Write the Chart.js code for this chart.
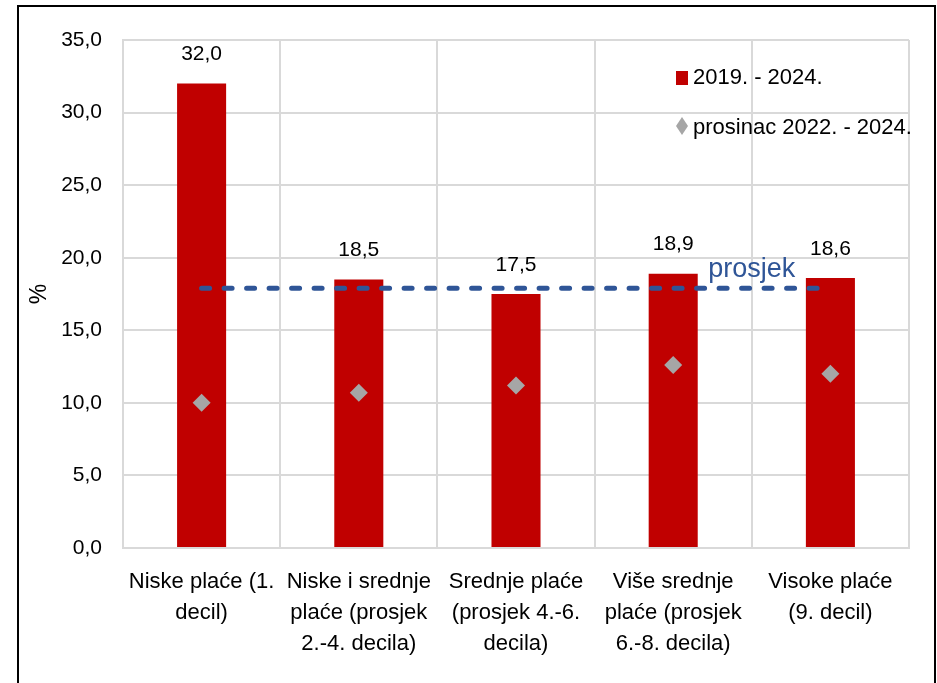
<!DOCTYPE html>
<html lang="hr">
<head>
<meta charset="utf-8">
<title>Rast plaća po decilima</title>
<script src="https://cdn.jsdelivr.net/npm/chart.js@4"></script>
<style>
    html, body { margin: 0; padding: 0; background: #fff; overflow: hidden; }
    #okvir {
        position: absolute; left: 17px; top: 5px; width: 919px; height: 720px;
        box-sizing: border-box; border: 2.5px solid #000;
    }
    #grafikon { position: absolute; left: 0; top: 0; }
</style>
</head>
<body>
<div id="okvir"></div>
<canvas id="grafikon" width="937" height="683"></canvas>
<script>
// ── Podaci ────────────────────────────────────────────────────
const KATEGORIJE = [
    ['Niske plaće (1.', 'decil)'],
    ['Niske i srednje', 'plaće (prosjek', '2.-4. decila)'],
    ['Srednje plaće', '(prosjek 4.-6.', 'decila)'],
    ['Više srednje', 'plaće (prosjek', '6.-8. decila)'],
    ['Visoke plaće', '(9. decil)'],
];
const RAST_2019_2024   = [32.0, 18.5, 17.5, 18.9, 18.6];
const RAST_PROSINAC_22 = [10.0, 10.7, 11.2, 12.6, 12.0];
const PROSJEK          = [17.9, 17.9, 17.9, 17.9, 17.9];
const Y_TICKS          = [0, 5, 10, 15, 20, 25, 30, 35];

const LABELE = {
    stupci:  '2019. - 2024.',
    romb:    'prosinac 2022. - 2024.',
    prosjek: 'prosjek',
};

// ── Stil ──────────────────────────────────────────────────────
const FONT   = "'Liberation Sans', Arial, sans-serif";
const CRVENA = '#C00000';
const SIVA   = '#A6A6A6';
const PLAVA  = '#2F5597';
const MREZA  = '#D9D9D9';

const fmt = v => Number(v).toFixed(1).replace('.', ',');

// ── Oznake vrijednosti iznad stupaca + natpis "prosjek" ───────
const oznakeStupaca = {
    id: 'oznakeStupaca',
    afterDatasetsDraw(chart) {
        const { ctx } = chart;
        const meta = chart.getDatasetMeta(0);
        ctx.save();
        ctx.font = `21px ${FONT}`;
        ctx.fillStyle = '#000';
        ctx.textAlign = 'center';
        ctx.textBaseline = 'middle';
        meta.data.forEach((bar, i) => {
            ctx.fillText(fmt(RAST_2019_2024[i]), bar.x, bar.y - 29);
        });

        const xs = chart.scales.x, ys = chart.scales.y;
        const cx = (xs.getPixelForValue(3) + xs.getPixelForValue(4)) / 2;
        ctx.font = `27px ${FONT}`;
        ctx.fillStyle = PLAVA;
        ctx.fillText(LABELE.prosjek, cx, ys.getPixelForValue(PROSJEK[0]) - 19);
        ctx.restore();
    },
};

// ── Legenda unutar područja grafikona ─────────────────────────
const legendaUnutra = {
    id: 'legendaUnutra',
    afterDraw(chart) {
        const { ctx } = chart;
        const x = 682, y1 = 78, y2 = 126;
        ctx.save();
        ctx.fillStyle = CRVENA;
        ctx.fillRect(x - 6, y1 - 7, 12, 14);
        ctx.fillStyle = SIVA;
        ctx.beginPath();
        ctx.moveTo(x, y2 - 9);
        ctx.lineTo(x + 6, y2);
        ctx.lineTo(x, y2 + 9);
        ctx.lineTo(x - 6, y2);
        ctx.closePath();
        ctx.fill();
        ctx.font = `22px ${FONT}`;
        ctx.fillStyle = '#000';
        ctx.textAlign = 'left';
        ctx.textBaseline = 'middle';
        ctx.fillText(LABELE.stupci, 693, y1);
        ctx.fillText(LABELE.romb, 693, y2 + 2);
        ctx.restore();
    },
};

// ── Grafikon ──────────────────────────────────────────────────
new Chart(document.getElementById('grafikon'), {
    data: {
        labels: KATEGORIJE,
        datasets: [
            {
                type: 'bar',
                label: LABELE.stupci,
                data: RAST_2019_2024,
                backgroundColor: CRVENA,
                categoryPercentage: 1,
                barPercentage: 0.312,
                order: 3,
            },
            {
                type: 'line',
                label: LABELE.prosjek,
                data: PROSJEK,
                borderColor: PLAVA,
                borderWidth: 5,
                borderDash: [8, 14.5],
                borderCapStyle: 'round',
                pointRadius: 0,
                fill: false,
                order: 2,
            },
            {
                type: 'line',
                label: LABELE.romb,
                data: RAST_PROSINAC_22,
                showLine: false,
                pointStyle: 'rectRot',
                pointRadius: 9,
                pointBackgroundColor: SIVA,
                pointBorderWidth: 0,
                order: 1,
            },
        ],
    },
    options: {
        responsive: false,
        animation: false,
        devicePixelRatio: 1,
        layout: { padding: { left: 24, top: 40, right: 28, bottom: 0 } },
        plugins: {
            legend: { display: false },
            tooltip: { enabled: false },
        },
        scales: {
            x: {
                grid: { color: MREZA, lineWidth: 2, offset: true, drawTicks: false },
                border: { color: MREZA, width: 2 },
                ticks: {
                    color: '#000',
                    padding: 18,
                    maxRotation: 0,
                    autoSkip: false,
                    font: { family: FONT, size: 22, lineHeight: 1.41 },
                },
                afterFit: s => { s.height = 135; },
            },
            y: {
                min: 0,
                max: 35,
                afterBuildTicks: s => { s.ticks = Y_TICKS.map(v => ({ value: v })); },
                grid: { color: MREZA, lineWidth: 2, drawTicks: false },
                border: { color: MREZA, width: 2 },
                ticks: {
                    color: '#000',
                    padding: 21,
                    font: { family: FONT, size: 21 },
                    callback: v => fmt(v),
                },
                title: {
                    display: true,
                    text: '%',
                    color: '#000',
                    padding: { top: 2, bottom: 0 },
                    font: { family: FONT, size: 23 },
                },
                afterFit: s => { s.width = 99; },
            },
        },
    },
    plugins: [oznakeStupaca, legendaUnutra],
});
</script>
</body>
</html>
